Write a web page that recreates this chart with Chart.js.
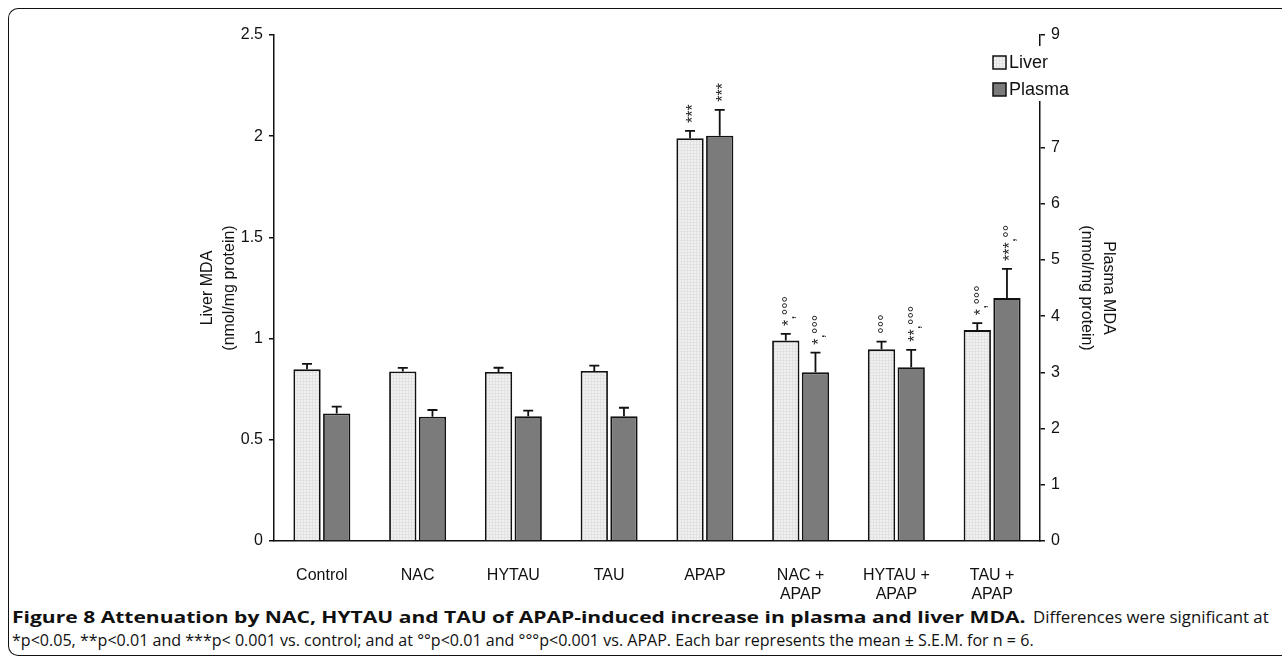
<!DOCTYPE html>
<html>
<head>
<meta charset="utf-8">
<script src="https://cdn.jsdelivr.net/npm/chart.js@4/dist/chart.umd.min.js"></script>
<style>
  html, body { margin: 0; padding: 0; background: #fff; }
  #frame {
    position: absolute; left: 8px; top: 8px; width: 1290px; height: 646px;
    border-top: 1.5px solid #111; border-left: 1.5px solid #111; border-bottom: 1.5px solid #111;
    border-radius: 10px 0 0 10px;
  }
  #wrap { position: absolute; left: 0; top: 0; width: 1282px; height: 600px; }
  .seg {
    position: absolute; font-family: "Open Sans", sans-serif; font-size: 16px; line-height: 23px;
    color: #111; transform-origin: 0 0; white-space: nowrap;
  }
</style>
</head>
<body>
<div id="frame"></div>
<div id="wrap"><canvas id="chart"></canvas></div>
<div class="seg" data-w="1014" style="left:12px;top:606px"><b>Figure 8 Attenuation by NAC, HYTAU and TAU of APAP-induced increase in plasma and liver MDA.</b></div>
<div class="seg" data-w="236" style="left:1033px;top:606px">Differences were significant at</div>
<div class="seg" data-w="1022" style="left:12px;top:629px">*p&lt;0.05, **p&lt;0.01 and ***p&lt; 0.001 vs. control; and at °°p&lt;0.01 and °°°p&lt;0.001 vs. APAP. Each bar represents the mean ± S.E.M. for n = 6.</div>
<script>
const categories = ['Control', 'NAC', 'HYTAU', 'TAU', 'APAP', ['NAC +', 'APAP'], ['HYTAU +', 'APAP'], ['TAU +', 'APAP']];
const liver = [0.848, 0.838, 0.835, 0.84, 1.99, 0.99, 0.947, 1.042];
const liverSem = [0.027, 0.017, 0.021, 0.026, 0.036, 0.033, 0.038, 0.034];
const plasma = [2.27, 2.21, 2.22, 2.22, 7.21, 3.0, 3.09, 4.32];
const plasmaSem = [0.12, 0.12, 0.10, 0.15, 0.46, 0.35, 0.31, 0.52];
const liverSig = ['', '', '', '', '***', '*,°°°', '°°°', '*,°°°'];
const plasmaSig = ['', '', '', '', '***', '*,°°°', '**,°°°', '***,°°'];
const liverTicks = [0, 0.5, 1, 1.5, 2, 2.5];
const plasmaTicks = [0, 1, 2, 3, 4, 5, 6, 7, 8, 9];

const FONT = '"Liberation Sans", Arial, sans-serif';
const INK = '#111';

// faint grid pattern like the light bars in the figure
function lightPattern() {
    const c = document.createElement('canvas');
    c.width = 3; c.height = 3;
    const g = c.getContext('2d');
    g.fillStyle = '#f1f1f1';
    g.fillRect(0, 0, 3, 3);
    g.fillStyle = '#e2e2e2';
    g.fillRect(0, 0, 3, 1);
    g.fillRect(0, 0, 1, 3);
    return g.createPattern(c, 'repeat');
}
const LIGHT = lightPattern();
const DARK = '#7b7b7b';

const errorBars = {
    id: 'errorBars',
    afterDatasetsDraw(chart) {
        const ctx = chart.ctx;
        const sets = [[0, liver, liverSem, liverSig, 'y'], [1, plasma, plasmaSem, plasmaSig, 'y1']];
        ctx.save();
        for (const [i, vals, sems, sigs, axis] of sets) {
            const meta = chart.getDatasetMeta(i);
            const scale = chart.scales[axis];
            meta.data.forEach((bar, j) => {
                const top = scale.getPixelForValue(vals[j] + sems[j]);
                ctx.strokeStyle = INK;
                ctx.lineWidth = 1.8;
                ctx.beginPath();
                ctx.moveTo(bar.x, bar.y);
                ctx.lineTo(bar.x, top);
                ctx.moveTo(bar.x - 5, top);
                ctx.lineTo(bar.x + 5, top);
                ctx.stroke();
                if (sigs[j]) {
                    ctx.save();
                    ctx.translate(bar.x + 4, top - 8);
                    ctx.rotate(-Math.PI / 2);
                    ctx.fillStyle = '#222';
                    ctx.font = '16px ' + FONT;
                    ctx.textAlign = 'left';
                    ctx.textBaseline = 'middle';
                    ctx.fillText(sigs[j], 0, 0);
                    ctx.restore();
                }
            });
        }
        ctx.restore();
    }
};

const boxLegend = {
    id: 'boxLegend',
    afterDraw(chart) {
        const ctx = chart.ctx;
        const x = chart.chartArea.right - 47;
        ctx.save();
        ctx.fillStyle = '#fff';
        ctx.fillRect(x - 3, 46, 95, 55);
        chart.data.datasets.forEach((ds, i) => {
            const cy = 62 + i * 27;
            ctx.fillStyle = ds.backgroundColor;
            ctx.fillRect(x, cy - 6, 13, 13);
            ctx.strokeStyle = INK;
            ctx.lineWidth = 1.5;
            ctx.strokeRect(x, cy - 6, 13, 13);
            ctx.fillStyle = INK;
            ctx.font = '18px ' + FONT;
            ctx.textBaseline = 'middle';
            ctx.fillText(ds.label, x + 16, cy + 1);
        });
        ctx.restore();
    }
};

const axisFont = {family: FONT, size: 16};

new Chart(document.getElementById('chart'), {
    type: 'bar',
    data: {
        labels: categories,
        datasets: [
            {label: 'Liver', data: liver, yAxisID: 'y', backgroundColor: LIGHT,
             borderColor: INK, borderWidth: 1.8},
            {label: 'Plasma', data: plasma, yAxisID: 'y1', backgroundColor: DARK,
             borderColor: INK, borderWidth: 1.8},
        ],
    },
    options: {
        responsive: true,
        maintainAspectRatio: false,
        animation: false,
        layout: {padding: {left: 192, right: 158, top: 35, bottom: 0}},
        datasets: {bar: {categoryPercentage: 0.62, barPercentage: 0.92}},
        plugins: {legend: {display: false}, tooltip: {enabled: false}},
        scales: {
            x: {
                grid: {display: false},
                border: {display: true, color: INK, width: 1.5},
                ticks: {color: INK, font: axisFont, padding: 17, maxRotation: 0, autoSkip: false},
                afterFit: (s) => { s.height = 59; },
            },
            y: {
                position: 'left',
                min: 0, max: 2.5,
                afterBuildTicks: (s) => { s.ticks = liverTicks.map((v) => ({value: v})); },
                grid: {drawOnChartArea: false, drawTicks: true, tickLength: 5, color: INK, lineWidth: 1.5},
                border: {display: true, color: INK, width: 1.5},
                ticks: {color: INK, font: axisFont, padding: 6, callback: (v) => String(v)},
                title: {display: true, text: ['Liver MDA', '(nmol/mg protein)'], color: INK,
                        font: {family: FONT, size: 16, lineHeight: 1.4}, padding: 4},
                afterFit: (s) => { s.width = 82; },
            },
            y1: {
                position: 'right',
                min: 0, max: 9,
                afterBuildTicks: (s) => { s.ticks = plasmaTicks.map((v) => ({value: v})); },
                grid: {drawOnChartArea: false, drawTicks: true, tickLength: 5, color: INK, lineWidth: 1.5},
                border: {display: true, color: INK, width: 1.5},
                ticks: {color: INK, font: axisFont, padding: 6, callback: (v) => String(v)},
                title: {display: true, text: ['Plasma MDA', '(nmol/mg protein)'], color: INK,
                        font: {family: FONT, size: 16, lineHeight: 1.4}, padding: 4},
                afterFit: (s) => { s.width = 84; },
            },
        },
    },
    plugins: [errorBars, boxLegend],
});

// squeeze each caption piece to the width it has in the original figure
document.querySelectorAll('.seg').forEach((el) => {
    const k = Number(el.dataset.w) / el.scrollWidth;
    el.style.transform = 'scaleX(' + k + ')';
});
</script>
</body>
</html>
